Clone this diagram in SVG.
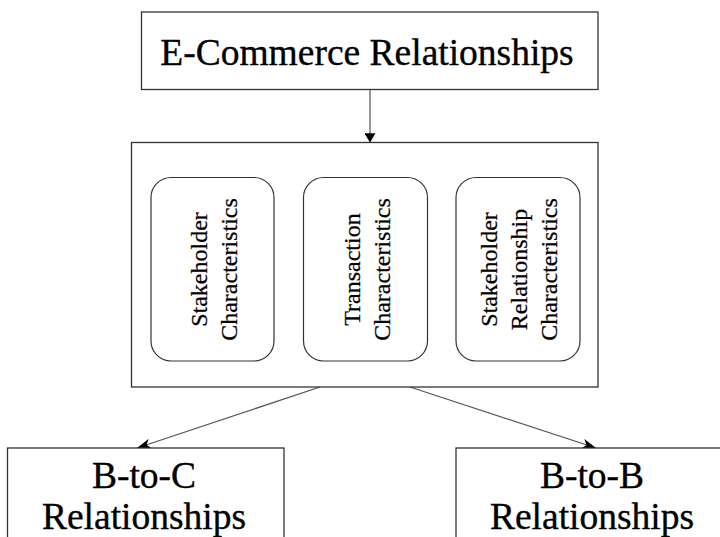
<svg xmlns="http://www.w3.org/2000/svg" width="720" height="537" viewBox="0 0 720 537">
  <style>
    .box { fill: #ffffff; stroke: #333333; stroke-width: 1.3; }
    .pill { fill: #ffffff; stroke: #333333; stroke-width: 1.2; }
    .link { fill: none; stroke: #555555; stroke-width: 1.2; }
    .big { font-family: "Liberation Serif", "Times New Roman", serif; font-size: 37.5px; fill: #000000; stroke: #000000; stroke-width: 0.35; text-anchor: middle; }
    .side { font-family: "Liberation Serif", "Times New Roman", serif; font-size: 24px; fill: #000000; stroke: #000000; stroke-width: 0.25; text-anchor: middle; }
  </style>
  <defs>
    <marker id="head" viewBox="0 0 10 12" refX="10" refY="6" markerWidth="11" markerHeight="11" markerUnits="userSpaceOnUse" orient="auto">
      <path d="M0,0 L10,6 L0,12 z" fill="#000000"/>
    </marker>
    <marker id="barb" viewBox="0 0 14 10" refX="14" refY="5" markerWidth="14" markerHeight="10" markerUnits="userSpaceOnUse" orient="auto">
      <path d="M0,0 L14,5 L0,10 L4,5 z" fill="#000000"/>
    </marker>
  </defs>

  <rect width="720" height="537" fill="#ffffff"/>

  <!-- connectors -->
  <g id="connectors">
    <line class="link" x1="370" y1="89.5" x2="370" y2="142.5" stroke="#000000" marker-end="url(#head)"/>
    <line class="link" x1="320" y1="387" x2="137" y2="448" marker-end="url(#barb)"/>
    <line class="link" x1="410" y1="387" x2="596" y2="448" marker-end="url(#barb)"/>
  </g>

  <!-- top node -->
  <g id="ecommerce">
    <rect class="box" x="141.5" y="12" width="456.5" height="77.5"/>
    <text class="big" x="367" y="64.5">E-Commerce Relationships</text>
  </g>

  <!-- container of the three characteristic groups -->
  <g id="characteristics">
    <rect class="box" x="131.5" y="142.5" width="466.5" height="244.5"/>
  </g>

  <g id="stakeholder">
    <rect class="pill" x="151" y="177.5" width="123" height="183.5" rx="20" ry="20"/>
    <text class="side" x="206.5" y="269.5" transform="rotate(-90 206.5 269.5)">Stakeholder</text>
    <text class="side" x="236.5" y="269.5" transform="rotate(-90 236.5 269.5)">Characteristics</text>
  </g>

  <g id="transaction">
    <rect class="pill" x="303.5" y="177.5" width="124" height="183.5" rx="20" ry="20"/>
    <text class="side" x="359.5" y="269.5" transform="rotate(-90 359.5 269.5)">Transaction</text>
    <text class="side" x="389.5" y="269.5" transform="rotate(-90 389.5 269.5)">Characteristics</text>
  </g>

  <g id="stakeholder-relationship">
    <rect class="pill" x="456" y="177.5" width="124" height="183.5" rx="20" ry="20"/>
    <text class="side" x="496.5" y="269.5" transform="rotate(-90 496.5 269.5)">Stakeholder</text>
    <text class="side" x="526.5" y="269.5" transform="rotate(-90 526.5 269.5)">Relationship</text>
    <text class="side" x="556.5" y="269.5" transform="rotate(-90 556.5 269.5)">Characteristics</text>
  </g>

  <!-- bottom nodes -->
  <g id="b2c">
    <rect class="box" x="7.5" y="448" width="276.5" height="120"/>
    <text class="big" x="144" y="488">B-to-C</text>
    <text class="big" x="144" y="529">Relationships</text>
  </g>

  <g id="b2b">
    <rect class="box" x="456" y="448" width="273" height="120"/>
    <text class="big" x="592" y="488">B-to-B</text>
    <text class="big" x="592" y="529">Relationships</text>
  </g>
</svg>
